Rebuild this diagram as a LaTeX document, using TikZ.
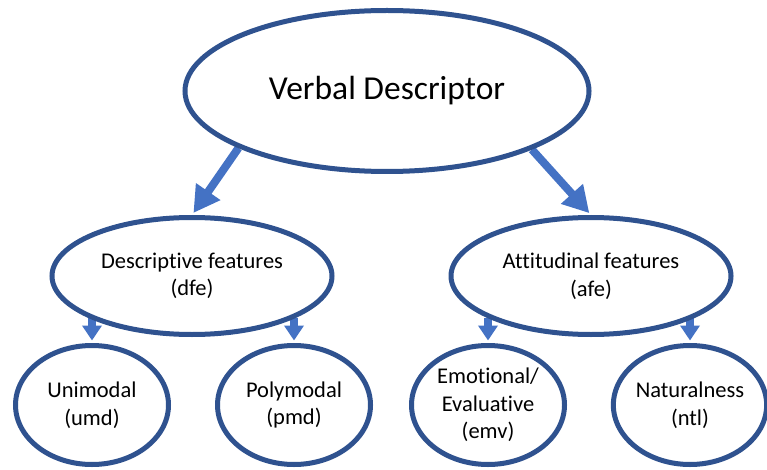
\documentclass[tikz,border=0pt]{standalone}
\usepackage{fontspec}
\setmainfont{Carlito}[Ligatures={NoCommon,NoContextual}]
\usetikzlibrary{arrows.meta,backgrounds,shapes.geometric}

\definecolor{ringblue}{HTML}{2F528F}
\definecolor{arrowblue}{HTML}{4472C4}

\begin{document}
\begin{tikzpicture}[
        x=1pt, y=-1pt,
        topell/.style={
            ellipse,
            draw=ringblue,
            fill=white,
            line width=5pt,
            minimum width=404pt,
            minimum height=161pt,
            inner sep=0pt,
            font=\fontsize{33.5}{40}\selectfont},
        midell/.style={
            ellipse,
            draw=ringblue,
            fill=white,
            line width=5pt,
            minimum width=280pt,
            minimum height=117pt,
            inner sep=0pt,
            align=center,
            font=\fontsize{22.5}{27.5}\selectfont},
        leafell/.style={
            midell,
            minimum width=153pt,
            minimum height=119pt},
        bigarrow/.style={
            draw=arrowblue,
            line width=8pt,
            shorten >=2.5pt,
            -{Triangle[length=26pt,width=28pt]}},
        smallarrow/.style={
            draw=arrowblue,
            line width=8pt,
            shorten >=2.5pt,
            -{Triangle[length=15pt,width=19pt]}}
        ]
        \useasboundingbox (0,0) rectangle (767,470);

        \node[topell] (vd) at (387,91) {Verbal Descriptor};
        \node[midell] (dfe) at (192,276) {Descriptive features\\(dfe)};
        \node[midell] (afe) at (591,276) {Attitudinal features\\(afe)};
        \node[leafell] (umd) at (92,405) {Unimodal\\(umd)};
        \node[leafell] (pmd) at (294,405) {Polymodal\\(pmd)};
        \node[leafell] (emv) at (488,405) {Emotional/\\Evaluative\\(emv)};
        \node[leafell] (ntl) at (690,405) {Naturalness\\(ntl)};

        % connectors go behind the rings
        \begin{scope}[on background layer]
            \draw[bigarrow] (vd.201.6) -- (dfe.north);
            \draw[bigarrow] (vd.338.7) -- (afe.north);
            \foreach \i/\j/\a in {% from/to/start angle
                dfe/umd/202,
                dfe/pmd/338,
                afe/emv/202,
                afe/ntl/338}
                \draw[smallarrow] (\j.north |- \i.\a) -- (\j.north);
        \end{scope}
        \end{tikzpicture}
\end{document}
